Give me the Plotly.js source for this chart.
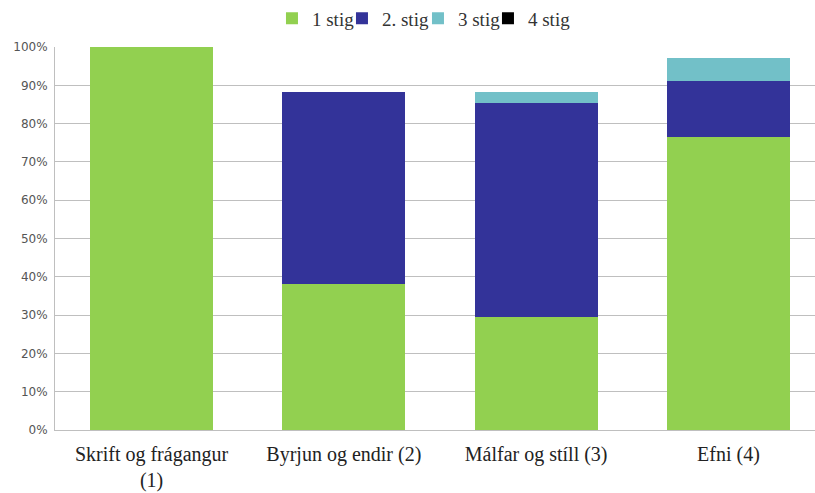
<!DOCTYPE html>
<html>
<head>
<meta charset="utf-8">
<script src="https://cdn.plot.ly/plotly-3.0.1.min.js"></script>
<style>html,body{margin:0;padding:0;background:#fff;}#chart{width:815px;height:493px;}</style>
</head>
<body>
<div id="chart"></div>
<script>
const categories = ["Skrift og frágangur<br>(1)", "Byrjun og endir (2)", "Málfar og stíll (3)", "Efni (4)"];
const seriesNames = ["1 stig", "2. stig", "3 stig", "4 stig"];
const stig1 = [100, 38.2, 29.4, 76.5];
const stig2 = [0, 50.0, 55.9, 14.7];
const stig3 = [0, 0, 2.9, 5.9];
const stig4 = [0, 0, 0, 0];
const colors = ["#92D050", "#333399", "#72C0C8", "#000000"];

const legendIds = ["legend", "legend2", "legend3", "legend4"];
const data = [stig1, stig2, stig3, stig4].map((vals, i) => ({
  type: "bar",
  name: seriesNames[i],
  x: categories,
  y: vals,
  legend: legendIds[i],
  marker: {color: colors[i], line: {width: 0}},
  hoverinfo: "none"
}));

const legendX = [0.2855, 0.3776, 0.4776, 0.5697];
const layout = {
  width: 815, height: 493,
  barmode: "stack",
  bargap: 0.36,
  margin: {l: 55, r: 0, t: 47, b: 63, autoexpand: false},
  paper_bgcolor: "#fff", plot_bgcolor: "#fff",
  showlegend: true,
  xaxis: {range: [-0.502, 3.45], showgrid: false, showline: true, linecolor: "#BFBFBF", linewidth: 1, ticks: "",
          ticklabelstandoff: 6,
          tickfont: {family: "Liberation Serif, serif", size: 20, color: "#222"}},
  yaxis: {range: [0, 100], dtick: 10, ticksuffix: "%", showgrid: true, gridcolor: "#BFBFBF", gridwidth: 1,
          showline: true, linecolor: "#BFBFBF", linewidth: 1, zeroline: false, ticks: "",
          ticklabelstandoff: 4,
          tickfont: {family: "DejaVu Sans, Verdana, sans-serif", size: 12, color: "#555"}}
};
legendIds.forEach((id, i) => {
  layout[id] = {orientation: "h", x: legendX[i], xanchor: "left", y: 1.075, yanchor: "middle",
    bgcolor: "rgba(0,0,0,0)",
    font: {family: "Liberation Serif, serif", size: 19, color: "#333"}, itemwidth: 30};
});
Plotly.newPlot("chart", data, layout, {displayModeBar: false, staticPlot: true});
</script>
</body>
</html>
